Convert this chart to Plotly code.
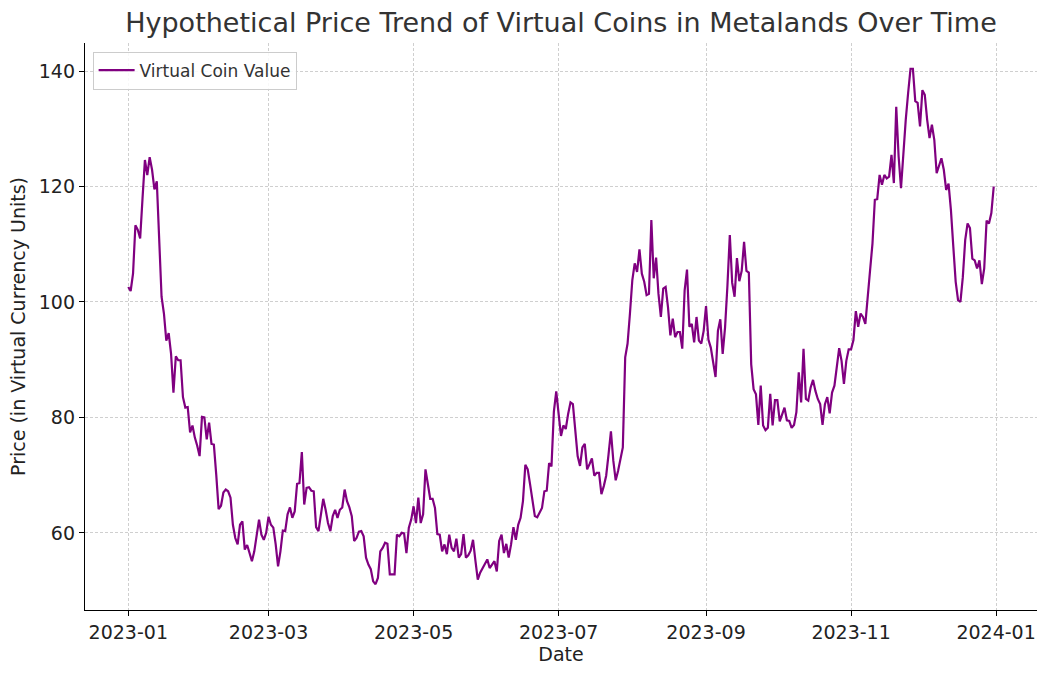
import pandas as pd
import plotly.graph_objects as go

start_date = "2023-01-01"
values = [
    102.6, 101.9, 104.9, 113.3, 112.5, 111.0, 118.0, 124.6, 122.0, 125.1,
    122.9, 119.5, 120.9, 110.0, 100.9, 98.0, 93.3, 94.6, 91.0, 84.3,
    90.6, 89.9, 89.9, 83.5, 81.7, 81.8, 77.4, 78.6, 76.5, 75.1,
    73.3, 80.1, 80.0, 76.2, 79.1, 75.4, 75.3, 70.1, 64.1, 64.7,
    67.0, 67.5, 67.2, 66.1, 61.4, 59.1, 58.0, 61.4, 62.0, 57.1,
    57.9, 56.5, 55.1, 56.8, 59.4, 62.3, 59.7, 58.8, 60.0, 62.8,
    61.4, 60.9, 58.0, 54.2, 56.8, 60.4, 60.3, 63.2, 64.4, 62.6,
    63.7, 68.5, 68.6, 74.0, 64.9, 67.8, 67.9, 67.3, 67.2, 61.0,
    60.3, 62.9, 65.9, 64.0, 61.7, 60.3, 62.9, 64.0, 62.6, 64.0,
    64.4, 67.5, 65.5, 64.4, 62.9, 58.6, 59.1, 60.2, 60.3, 59.4,
    55.7, 54.5, 53.7, 51.6, 51.1, 52.2, 56.8, 57.4, 58.3, 58.1,
    52.8, 52.8, 52.8, 59.7, 59.4, 60.0, 59.9, 56.5, 60.9, 62.3,
    64.6, 61.7, 66.1, 61.7, 63.2, 71.0, 68.1, 65.9, 65.9, 64.3,
    59.8, 59.7, 56.8, 58.0, 56.3, 59.7, 57.4, 56.8, 59.0, 55.7,
    56.3, 59.8, 55.7, 56.1, 56.9, 58.8, 55.2, 51.9, 53.1, 53.9,
    54.5, 55.4, 53.9, 54.5, 55.1, 53.3, 58.6, 59.7, 56.5, 58.1,
    55.7, 58.0, 61.0, 58.8, 61.4, 62.6, 65.5, 71.8, 71.0, 68.4,
    65.5, 62.9, 62.7, 63.5, 64.3, 67.2, 67.3, 72.1, 71.5, 81.0,
    84.5, 80.6, 76.8, 78.6, 78.0, 80.6, 82.6, 82.3, 78.3, 73.3,
    71.6, 74.8, 75.4, 71.0, 71.9, 72.9, 69.9, 70.4, 70.4, 66.7,
    68.1, 69.9, 73.6, 77.6, 72.5, 69.1, 70.7, 72.5, 74.8, 90.4,
    92.8, 98.0, 103.8, 106.7, 105.2, 109.1, 104.9, 103.5, 101.2, 101.4,
    114.2, 104.1, 107.7, 101.4, 97.4, 102.3, 102.6, 99.1, 94.2, 97.1,
    93.9, 94.8, 94.8, 91.9, 102.0, 105.6, 95.7, 96.2, 93.0, 97.4,
    93.3, 92.8, 95.0, 99.3, 93.5, 92.1, 89.8, 87.0, 95.0, 97.0,
    91.0, 95.6, 102.8, 111.6, 103.3, 100.9, 107.6, 103.6, 105.4, 110.4,
    105.4, 105.1, 89.2, 84.9, 84.0, 78.7, 85.5, 78.6, 77.8, 78.2,
    84.1, 78.6, 83.0, 83.0, 79.3, 80.5, 81.7, 79.5, 79.4, 78.2,
    78.7, 80.9, 87.8, 82.6, 91.9, 83.2, 82.9, 85.2, 86.5, 84.6,
    83.2, 82.3, 78.7, 82.3, 83.5, 80.7, 84.3, 85.5, 88.6, 92.0,
    89.8, 85.8, 89.8, 91.8, 91.8, 93.4, 98.4, 95.7, 98.0, 97.4,
    96.2, 101.4, 105.5, 110.1, 117.7, 117.8, 122.0, 120.3, 122.0, 121.4,
    121.7, 125.5, 120.6, 133.8, 125.2, 119.7, 126.1, 131.6, 136.2, 140.4,
    140.4, 134.8, 134.5, 130.4, 136.7, 135.9, 131.6, 128.4, 130.7, 128.1,
    122.3, 123.5, 124.9, 122.9, 119.4, 120.5, 115.9, 109.6, 103.5, 100.3,
    100.0, 104.3, 110.7, 113.6, 112.8, 107.5, 107.2, 105.8, 107.2, 103.1,
    105.8, 114.1, 113.6, 115.4, 120.0,
]
dates = pd.date_range(start_date, periods=len(values), freq="D")

x_tick_vals = ["2023-01-01", "2023-03-01", "2023-05-01", "2023-07-01",
               "2023-09-01", "2023-11-01", "2024-01-01"]
x_tick_text = ["2023-01", "2023-03", "2023-05", "2023-07",
               "2023-09", "2023-11", "2024-01"]
y_tick_vals = [60, 80, 100, 120, 140]

FONT = "DejaVu Sans"
pad = (dates[-1] - dates[0]) * 0.05
ymin, ymax = min(values), max(values)
ypad = (ymax - ymin) * 0.05

fig = go.Figure()
fig.add_trace(go.Scatter(
    x=dates, y=values, mode="lines", name="Virtual Coin Value",
    line=dict(color="#800080", width=2.2),
))

fig.update_layout(
    width=1050, height=676,
    paper_bgcolor="white", plot_bgcolor="white",
    margin=dict(l=85, r=13, t=43, b=66),
    font=dict(family=FONT, size=19, color="#222222"),
    title=dict(text="Hypothetical Price Trend of Virtual Coins in Metalands Over Time",
               x=0.5, xref="paper", xanchor="center", y=0.967, yanchor="middle",
               font=dict(size=27, color="#333333")),
    showlegend=True,
    legend=dict(x=0.008, y=0.985, xanchor="left", yanchor="top",
                bgcolor="rgba(255,255,255,0.85)", bordercolor="#cccccc", borderwidth=1,
                font=dict(size=17, color="#333333"), itemwidth=36),
    xaxis=dict(
        type="date",
        range=[dates[0] - pad, dates[-1] + pad],
        tickvals=x_tick_vals, ticktext=x_tick_text,
        showgrid=True, gridcolor="#cfcfcf", griddash="3px,2px", gridwidth=1,
        showline=True, linecolor="black", linewidth=1.3, mirror=False,
        ticks="outside", ticklen=5, tickcolor="black",
        title=dict(text="Date", font=dict(size=19), standoff=2),
        zeroline=False,
    ),
    yaxis=dict(
        range=[ymin - ypad, ymax + ypad],
        tickvals=y_tick_vals,
        showgrid=True, gridcolor="#cfcfcf", griddash="3px,2px", gridwidth=1,
        showline=True, linecolor="black", linewidth=1.3, mirror=False,
        ticks="outside", ticklen=5, tickcolor="black",
        title=dict(text="Price (in Virtual Currency Units)", font=dict(size=19), standoff=8),
        zeroline=False,
    ),
)

fig.write_html("out.html")
